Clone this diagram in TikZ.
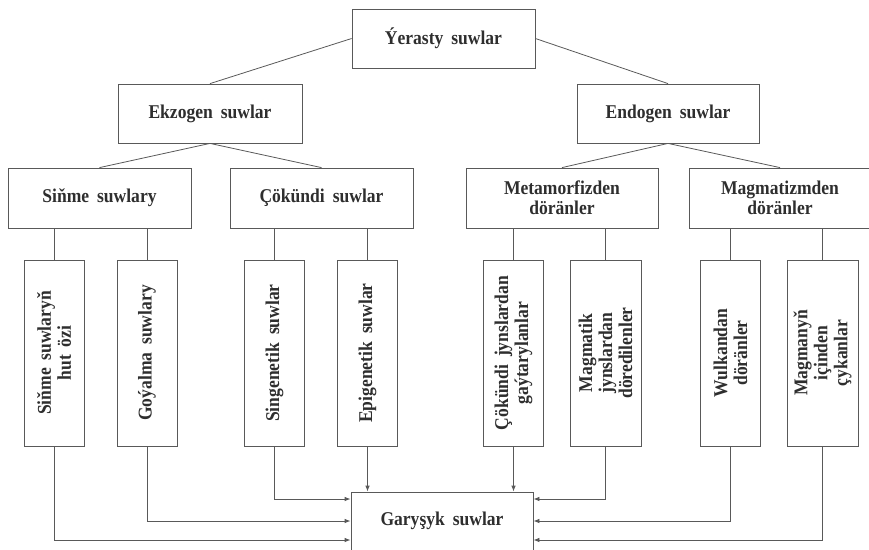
\documentclass[tikz,border=0pt]{standalone}
\usepackage{fontspec}
\setmainfont{Liberation Serif}[FakeStretch=0.9, WordSpace=1.8]
\usetikzlibrary{positioning,arrows.meta,calc}

\begin{document}
\begin{tikzpicture}[x=1pt, y=-1pt,
    box/.style={rectangle, draw=black!65, line width=0.8pt, text=black!82, font=\fontsize{19.5}{20}\selectfont\bfseries, align=center, minimum width=183pt, minimum height=59pt, inner sep=2pt},
    vbox/.style={box, rotate=90, minimum width=186pt, minimum height=60pt},
    link/.style={-, draw=black!65, line width=0.8pt},
    feed/.style={-{Latex[length=6pt,width=4.5pt]}, draw=black!65, line width=0.8pt}]
        \useasboundingbox (0,0) rectangle (869,549);

        %% Top levels
        \node[box] (root) at (443.5,38.5) {Ýerasty suwlar};
        \node[box, minimum width=184pt] (ekzo) at (210,113.5) {Ekzogen suwlar};
        \node[box, minimum width=182pt] (endo) at (668,113.5) {Endogen suwlar};

        \node[box, minimum height=60pt] (sinme) at (99.5,198) {Siňme suwlary};
        \node[box, minimum height=60pt] (cok) at (321.5,198) {Çökündi suwlar};
        \node[box, minimum height=60pt, minimum width=192pt] (meta) at (562,198) {Metamorfizden\\döränler};
        \node[box, minimum height=60pt, minimum width=182pt] (mag) at (780,198) {Magmatizmden\\döränler};

        \draw[link] (root.west) -- (ekzo.north);
        \draw[link] (root.east) -- (endo.north);
        \draw[link] (ekzo.south) -- (sinme.north);
        \draw[link] (ekzo.south) -- (cok.north);
        \draw[link] (endo.south) -- (meta.north);
        \draw[link] (endo.south) -- (mag.north);

        %% Vertical boxes
        \node[vbox] (b1) at (54,353) {Siňme suwlaryň\\hut özi};
        \node[vbox] (b2) at (147,353) {Goýalma suwlary};
        \node[vbox] (b3) at (274.5,353) {Singenetik suwlar};
        \node[vbox] (b4) at (367.5,353) {Epigenetik suwlar};
        \node[vbox] (b5) at (513.5,353) {Çökündi jynslardan\\gaýtarylanlar};
        \node[vbox, minimum height=71pt] (b6) at (605.5,353) {Magmatik\\jynslardan\\döredilenler};
        \node[vbox] (b7) at (730.5,353) {Wulkandan\\döränler};
        \node[vbox, minimum height=71pt] (b8) at (822.5,353) {Magmanyň\\içinden\\çykanlar};

        \draw[link] (sinme.south -| b1.east) -- (b1.east);
        \draw[link] (sinme.south -| b2.east) -- (b2.east);
        \draw[link] (cok.south -| b3.east) -- (b3.east);
        \draw[link] (cok.south -| b4.east) -- (b4.east);
        \draw[link] (meta.south -| b5.east) -- (b5.east);
        \draw[link] (meta.south -| b6.east) -- (b6.east);
        \draw[link] (mag.south -| b7.east) -- (b7.east);
        \draw[link] (mag.south -| b8.east) -- (b8.east);

        %% Mixed waters
        \node[box, minimum width=182pt, minimum height=58pt] (gar) at (442,521) {Garyşyk suwlar};

        \draw[feed] (b1.west) |- ([yshift=-19pt]gar.west);
        \draw[feed] (b2.west) |- ([yshift=0pt]gar.west);
        \draw[feed] (b3.west) |- ([yshift=22pt]gar.west);
        \draw[feed] (b4.west) -- (b4.west |- gar.north);
        \draw[feed] (b5.west) -- (b5.west |- gar.north);
        \draw[feed] (b6.west) |- ([yshift=22pt]gar.east);
        \draw[feed] (b7.west) |- ([yshift=0pt]gar.east);
        \draw[feed] (b8.west) |- ([yshift=-19pt]gar.east);
\end{tikzpicture}
\end{document}
